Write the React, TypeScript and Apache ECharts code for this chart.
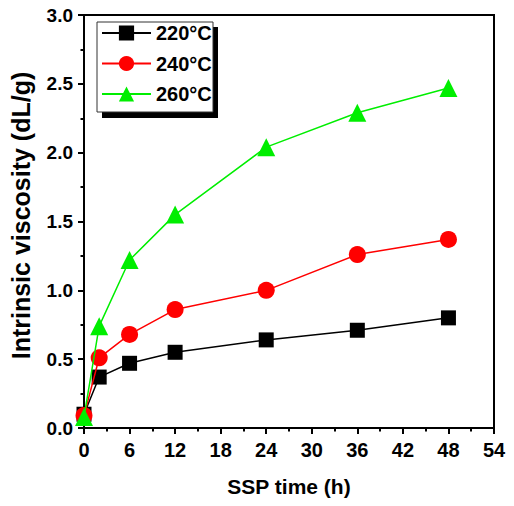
import React, { useEffect, useRef } from "react";
import * as echarts from "echarts";

const times = [0, 2, 6, 12, 24, 36, 48];
const v220 = [0.1, 0.37, 0.47, 0.55, 0.64, 0.71, 0.8];
const v240 = [0.09, 0.51, 0.68, 0.86, 1.0, 1.26, 1.37];
const v260 = [0.08, 0.74, 1.22, 1.55, 2.04, 2.29, 2.47];
const seriesNames = ["220°C", "240°C", "260°C"];
const xTitle = "SSP time (h)";
const yTitle = "Intrinsic viscosity (dL/g)";

const FONT = "'Liberation Sans', Arial, sans-serif";

export default function App() {
  const ref = useRef<HTMLDivElement>(null);
  useEffect(() => {
    if (!ref.current) return;
    const chart = echarts.init(ref.current, undefined, { renderer: "svg" });
    const mk = (vals: number[]) => times.map((t, i) => [t, vals[i]]);
    const axisCommon = {
      axisLine: { show: true, lineStyle: { color: "#000", width: 2 } },
      axisTick: { show: true, inside: false, length: 6, lineStyle: { color: "#000", width: 2 } },
      minorTick: { show: true, splitNumber: 2, length: 3.5, lineStyle: { color: "#000", width: 2 } },
      splitLine: { show: false },
    };
    chart.setOption({
      animation: false,
      backgroundColor: "#fff",
      textStyle: { fontFamily: FONT },
      grid: {
        left: 83,
        right: 20,
        top: 15,
        bottom: 78,
        show: true,
        borderColor: "#000",
        borderWidth: 2,
        backgroundColor: "transparent",
      },
      xAxis: {
        type: "value",
        min: 0,
        max: 54,
        interval: 6,
        ...axisCommon,
        axisLabel: { color: "#000", fontSize: 20, fontWeight: "bold", fontFamily: FONT, margin: 12 },
        name: xTitle,
        nameLocation: "middle",
        nameGap: 48,
        nameTextStyle: { color: "#000", fontSize: 21, fontWeight: "bold", fontFamily: FONT },
      },
      yAxis: {
        type: "value",
        min: 0,
        max: 3,
        interval: 0.5,
        ...axisCommon,
        axisLabel: {
          color: "#000",
          fontSize: 19,
          fontWeight: "bold",
          fontFamily: FONT,
          margin: 11,
          formatter: (v: number) => v.toFixed(1),
        },
        name: yTitle,
        nameLocation: "middle",
        nameGap: 51,
        nameTextStyle: { color: "#000", fontSize: 25, fontWeight: "bold", fontFamily: FONT, padding: [0, 0, 0, 12] },
      },
      legend: {
        orient: "vertical",
        left: 96,
        top: 18,
        itemWidth: 49,
        itemHeight: 19,
        itemGap: 10.5,
        z: 10,
        textStyle: { color: "#000", fontSize: 20, fontWeight: "bold", fontFamily: FONT, lineHeight: 20 },
        data: seriesNames,
      },
      graphic: [
        {
          type: "rect",
          z: 5,
          shape: { x: 102, y: 27, width: 116, height: 91 },
          style: { fill: "#000" },
        },
        {
          type: "rect",
          z: 6,
          shape: { x: 97, y: 22, width: 116, height: 90 },
          style: { fill: "#fff", stroke: "#333", lineWidth: 1 },
        },
      ],
      series: [
        {
          name: seriesNames[0],
          type: "line",
          data: mk(v220),
          symbol: "rect",
          symbolSize: 15,
          color: "#000",
          lineStyle: { color: "#000", width: 1.5 },
          itemStyle: { color: "#000" },
          z: 2,
        },
        {
          name: seriesNames[1],
          type: "line",
          data: mk(v240),
          symbol: "circle",
          symbolSize: 17,
          color: "#ff0000",
          lineStyle: { color: "#ff0000", width: 1.5 },
          itemStyle: { color: "#ff0000" },
          z: 3,
        },
        {
          name: seriesNames[2],
          type: "line",
          data: mk(v260),
          symbol: "triangle",
          symbolSize: 18,
          color: "#00ee00",
          lineStyle: { color: "#00ee00", width: 1.5 },
          itemStyle: { color: "#00ee00" },
          z: 4,
        },
      ],
    });
    return () => chart.dispose();
  }, []);
  return (
    <div
      ref={ref}
      style={{ position: "absolute", left: 0, top: 0, width: 514, height: 506 }}
    />
  );
}
